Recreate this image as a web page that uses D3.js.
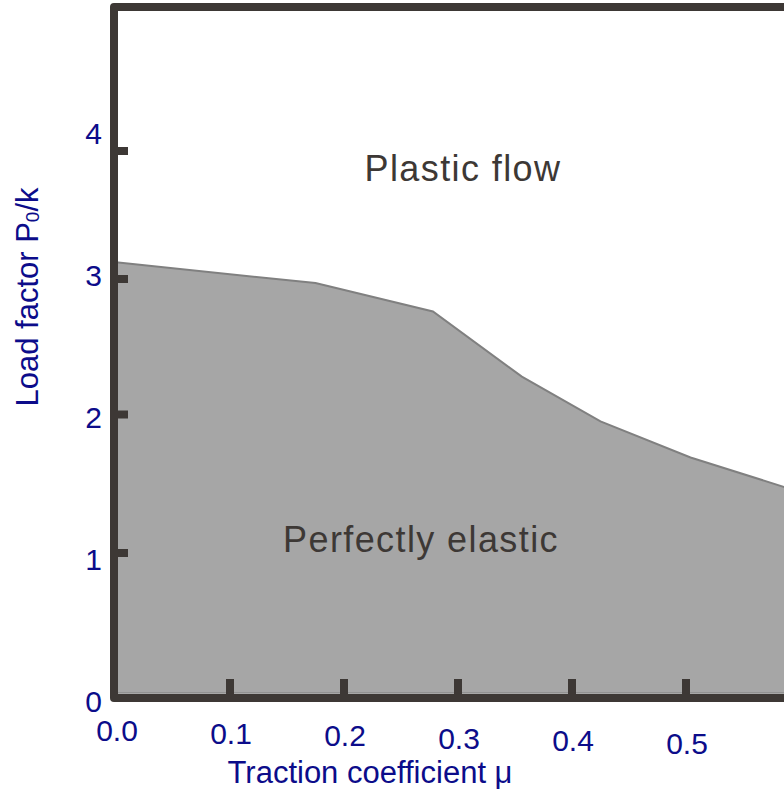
<!DOCTYPE html>
<html>
<head>
<meta charset="utf-8">
<script src="https://cdn.jsdelivr.net/npm/d3@7"></script>
<style>
  body { margin: 0; background: #fff; }
  text { font-family: "Liberation Sans", Arial, sans-serif; }
</style>
</head>
<body>
<div class="container"></div>
<script>
// boundary between elastic and plastic regions
var mu = [0, 0.175, 0.278, 0.356, 0.425, 0.504, 0.6];
var load = [3.13, 2.97, 2.76, 2.28, 1.95, 1.69, 1.44];
var baseLoad = 0.035;

var xTicks = [0, 0.1, 0.2, 0.3, 0.4, 0.5];
var xTickLabels = ['0.0', '0.1', '0.2', '0.3', '0.4', '0.5'];
var yTicks = [0, 1, 2, 3, 4];
var yTickLabels = ['0', '1', '2', '3', '4'];

var frameColor = '#3d3835';
var labelColor = '#0c0c8a';

var svg = d3.select('.container').append('svg')
  .attr('width', 784)
  .attr('height', 789);

var x = d3.scaleLinear().domain([0, 0.6]).range([116, 800]);
// the tick marks in the original are not evenly spaced
var y = d3.scaleLinear().domain([0, 1, 2, 3, 4]).range([698, 553, 414.5, 279, 151]);
var yLab = d3.scaleLinear().domain([0, 4]).range([701, 133]);

var points = mu.map(function(m, i) { return {mu: m, load: load[i]}; });

var area = d3.area()
  .x(function(d) { return x(d.mu); })
  .y0(y(baseLoad))
  .y1(function(d) { return y(d.load); });

svg.append('path')
  .datum(points)
  .attr('d', area)
  .attr('fill', '#a6a6a6');

svg.append('path')
  .datum(points)
  .attr('d', d3.line().x(function(d) { return x(d.mu); }).y(function(d) { return y(d.load); }))
  .attr('fill', 'none')
  .attr('stroke', '#808080')
  .attr('stroke-width', 2);

svg.append('line')
  .attr('x1', x(0)).attr('x2', 784)
  .attr('y1', y(baseLoad)).attr('y2', y(baseLoad))
  .attr('stroke', '#8a8a8a')
  .attr('stroke-width', 1.5);

// frame
svg.append('path')
  .attr('d', 'M784,7 L114,7 L114,' + y(0) + ' L784,' + y(0))
  .attr('fill', 'none')
  .attr('stroke', frameColor)
  .attr('stroke-width', 8)
  .attr('stroke-linejoin', 'round');

svg.selectAll('.xtick').data(xTicks.slice(1))
  .enter().append('line')
  .attr('class', 'xtick')
  .attr('x1', function(d) { return x(d); })
  .attr('x2', function(d) { return x(d); })
  .attr('y1', y(0))
  .attr('y2', y(0) - 19)
  .attr('stroke', frameColor)
  .attr('stroke-width', 8);

svg.selectAll('.ytick').data(yTicks.slice(1))
  .enter().append('line')
  .attr('class', 'ytick')
  .attr('x1', 114)
  .attr('x2', 128)
  .attr('y1', function(d) { return y(d); })
  .attr('y2', function(d) { return y(d); })
  .attr('stroke', frameColor)
  .attr('stroke-width', 8);

svg.selectAll('.xlab').data(xTicks)
  .enter().append('text')
  .attr('class', 'xlab')
  .attr('x', function(d) { return x(d) + 1; })
  .attr('y', function(d, i) { return 741 + i * 2.5; })
  .attr('text-anchor', 'middle')
  .attr('font-size', 30)
  .attr('fill', labelColor)
  .text(function(d, i) { return xTickLabels[i]; });

svg.selectAll('.ylab').data(yTicks)
  .enter().append('text')
  .attr('class', 'ylab')
  .attr('x', 102)
  .attr('y', function(d) { return yLab(d); })
  .attr('dy', '0.36em')
  .attr('text-anchor', 'end')
  .attr('font-size', 30)
  .attr('fill', labelColor)
  .text(function(d, i) { return yTickLabels[i]; });

svg.append('text')
  .attr('x', 370)
  .attr('y', 783)
  .attr('text-anchor', 'middle')
  .attr('font-size', 31)
  .attr('fill', labelColor)
  .text('Traction coefficient μ');

var yTitle = svg.append('text')
  .attr('transform', 'translate(38,297) rotate(-90)')
  .attr('text-anchor', 'middle')
  .attr('font-size', 31)
  .attr('fill', labelColor);
yTitle.append('tspan').text('Load factor P');
yTitle.append('tspan').attr('font-size', 19).attr('dy', 1).text('0');
yTitle.append('tspan').attr('dy', -1).text('/k');

svg.append('text')
  .attr('x', 463)
  .attr('y', 181)
  .attr('text-anchor', 'middle')
  .attr('font-size', 36)
  .attr('letter-spacing', 1.4)
  .attr('fill', frameColor)
  .text('Plastic flow');

svg.append('text')
  .attr('x', 421)
  .attr('y', 552)
  .attr('text-anchor', 'middle')
  .attr('font-size', 36)
  .attr('letter-spacing', 1.4)
  .attr('fill', frameColor)
  .text('Perfectly elastic');
</script>
</body>
</html>
